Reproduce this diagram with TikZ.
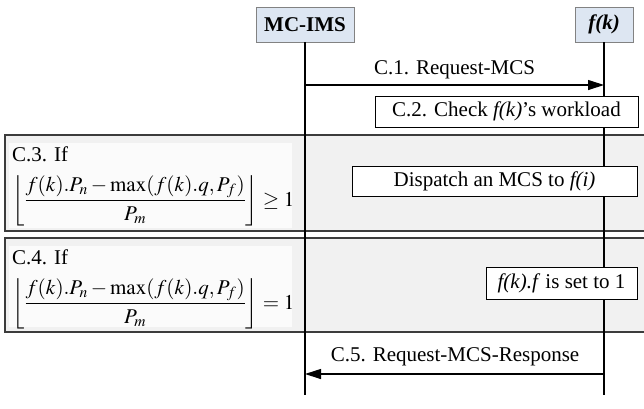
\documentclass[tikz,border=0pt]{standalone}
\usepackage{mathptmx}
\usepackage{fontspec}
\setmainfont{Liberation Serif}
\usetikzlibrary{arrows.meta}

\definecolor{hdrfill}{RGB}{221,230,242}
\definecolor{hdrline}{RGB}{130,130,130}
\definecolor{grpfill}{RGB}{241,241,241}
\definecolor{grpline}{RGB}{60,60,60}
\definecolor{panelfill}{RGB}{251,251,251}

\tikzset{
  hdr/.style={draw=hdrline, fill=hdrfill, line width=0.8pt, minimum height=35pt,
    inner sep=0pt, font=\fontsize{21}{25}\selectfont\bfseries},
  stepbox/.style={draw=black, fill=white, line width=1pt, inner sep=0pt,
    font=\fontsize{21}{25}\selectfont},
  grp/.style={draw=grpline, fill=grpfill, line width=1.4pt, inner sep=0pt},
  panel/.style={fill=panelfill, inner sep=0pt},
  life/.style={draw=black, line width=1.4pt},
  msg/.style={draw=black, line width=1.1pt, -{Triangle[length=16pt,width=10pt]}},
  lbl/.style={inner sep=0pt, font=\fontsize{21}{25}\selectfont},
}

% floor expression of the workload test
\newcommand{\loadfloor}{\left\lfloor\frac{f(k).P_n-\max(f(k).q,P_f)}{P_m}\right\rfloor}

\begin{document}
\begin{tikzpicture}[x=1pt,y=-1pt]
\useasboundingbox (0,0) rectangle (644,408);

% alternative / condition frames
\node[grp, minimum width=645pt, minimum height=96pt] (g1) at (327.5,183) {};
\node[grp, minimum width=645pt, minimum height=94pt] (g2) at (327.5,285) {};
\node[panel, minimum width=283pt, minimum height=85pt] (p1) at (150.5,185.5) {};
\node[panel, minimum width=283pt, minimum height=81pt] (p2) at (150.5,286.5) {};

% participants and lifelines
\node[hdr, minimum width=98pt] (mc) at (305,24.5) {MC-IMS};
\node[hdr, minimum width=58pt] (fk) at (604,24.5) {\itshape f(k)};
\coordinate (mcEnd) at (305,395);
\coordinate (fkEnd) at (604,395);
\draw[life] (mc.south) -- (mcEnd);
\draw[life] (fk.south) -- (fkEnd);

% conditions
\node[lbl, anchor=base west] (c3) at (12,161) {C.3. If};
\node[lbl, anchor=base west] (c3f) at (12,206) {$\displaystyle\loadfloor\geq 1$};
\node[lbl, anchor=base west] (c4) at (12,264) {C.4. If};
\node[lbl, anchor=base west] (c4f) at (12,309) {$\displaystyle\loadfloor= 1$};

% messages
\coordinate (c1s) at (305,85);
\coordinate (c1e) at (604,85);
\draw[msg] (c1s) -- (c1e);
\node[lbl] (c1) at (454.5,70) {C.1. Request-MCS};

\coordinate (c5s) at (604,374);
\coordinate (c5e) at (305,374);
\draw[msg] (c5s) -- (c5e);
\node[lbl] (c5) at (455,357) {C.5. Request-MCS-Response};

% actions
\node[stepbox, minimum width=263pt, minimum height=31pt] (c2) at (506.5,111.5)
  {C.2. Check \textit{f(k)}'s workload};
\node[stepbox, minimum width=285pt, minimum height=30pt] (disp) at (494.5,181)
  {Dispatch an MCS to \textit{f(i)}};
\node[stepbox, minimum width=151pt, minimum height=32pt] (setf) at (561.5,283)
  {\textit{f(k).f} is set to 1};
\end{tikzpicture}
\end{document}
